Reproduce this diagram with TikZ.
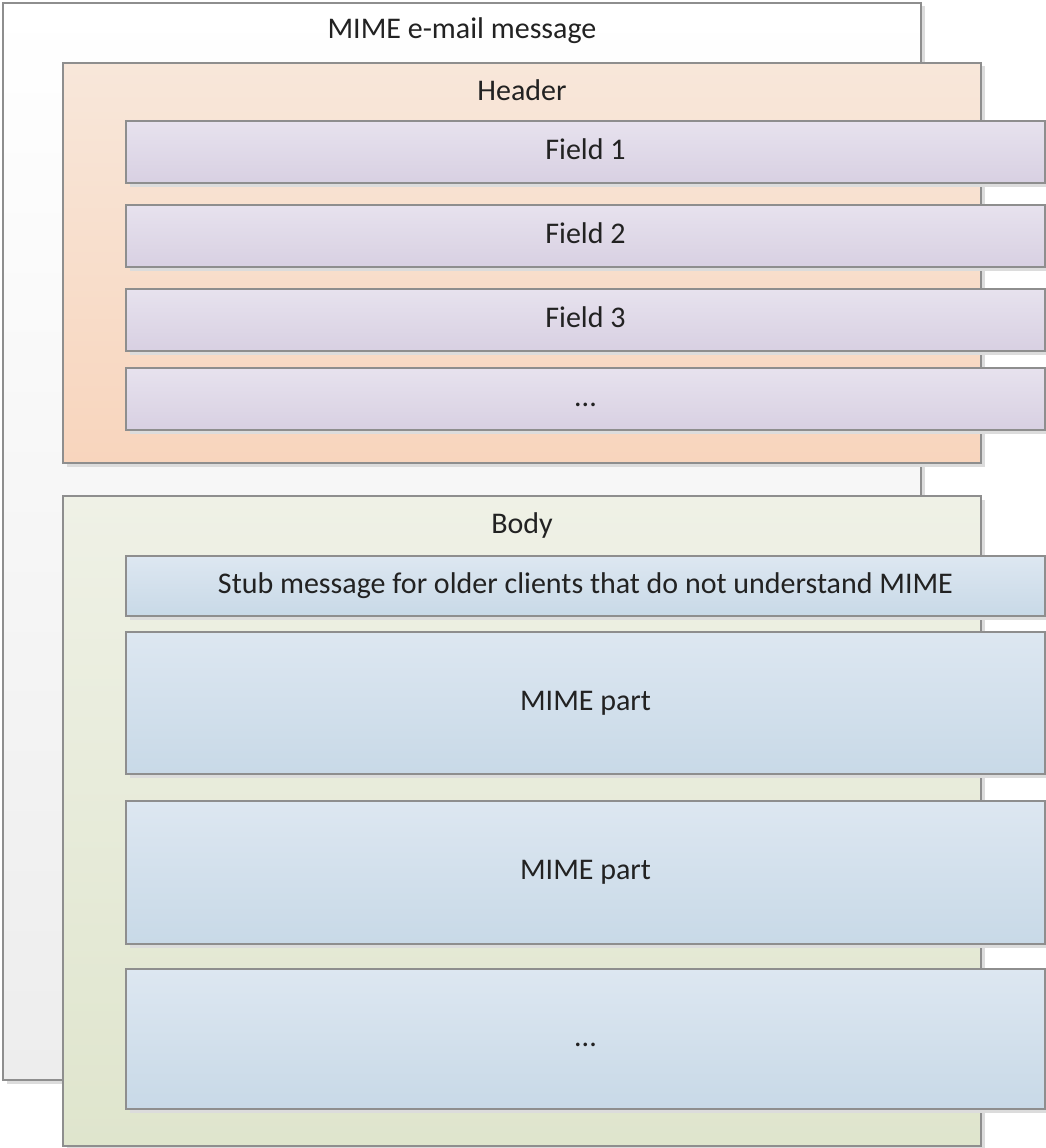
\documentclass[tikz,border=0pt]{standalone}
\usepackage{fontspec}
\setmainfont{Carlito}
\definecolor{edge}{HTML}{8E8E8E}
\definecolor{ink}{HTML}{222222}
\definecolor{shade}{HTML}{DCDCDC}
\definecolor{hdrtop}{HTML}{F8E7DA}
\definecolor{hdrbot}{HTML}{F8D5BD}
\definecolor{bodytop}{HTML}{EFF1E6}
\definecolor{bodybot}{HTML}{DFE5CD}
\definecolor{fldtop}{HTML}{E7E2EE}
\definecolor{fldbot}{HTML}{D8D0E2}
\definecolor{parttop}{HTML}{DDE7F1}
\definecolor{partbot}{HTML}{C8D9E7}
\definecolor{msgbot}{HTML}{EDEDED}
\tikzset{
  x=1pt, y=-1pt,
  box/.style={draw=edge, line width=1.3pt, inner sep=0pt, outer sep=0pt},
  shadowed/.style={preaction={fill=shade, transform canvas={shift={(3.5pt,-3.5pt)}}}},
  msgbox/.style={box, shadowed, top color=white, bottom color=msgbot},
  hdrbox/.style={box, shadowed, top color=hdrtop, bottom color=hdrbot},
  bodybox/.style={box, shadowed, top color=bodytop, bottom color=bodybot},
  fieldbox/.style={box, shadowed, top color=fldtop, bottom color=fldbot},
  partbox/.style={box, shadowed, top color=parttop, bottom color=partbot},
  lbl/.style={text=ink, font=\fontsize{30}{36}\selectfont, inner sep=0pt, anchor=base}
}
\begin{document}
\begin{tikzpicture}
\useasboundingbox (0,0) rectangle (1046,1148);
% outer message
\path[msgbox] (3,3) rectangle (921,1080);
\node[lbl] (msgt) at (462,39) {MIME e-mail message};
% header
\path[hdrbox] (63,63) rectangle (981,463);
\node[lbl] (hdrt) at (522,100) {Header};
\path[fieldbox] (126,121) rectangle (1045,183);
\node[lbl] (f1) at (585.5,159) {Field 1};
\path[fieldbox] (126,205) rectangle (1045,267);
\node[lbl] (f2) at (585.5,243) {Field 2};
\path[fieldbox] (126,289) rectangle (1045,351);
\node[lbl] (f3) at (585.5,327) {Field 3};
\path[fieldbox] (126,368) rectangle (1045,430);
\node[lbl] (f4) at (585.5,406) {...};
% body
\path[bodybox] (63,496) rectangle (981,1146);
\node[lbl] (bodyt) at (522,533) {Body};
\path[partbox] (126,556) rectangle (1045,616);
\node[lbl] (stub) at (585.5,593) {Stub message for older clients that do not understand MIME};
\path[partbox] (126,632) rectangle (1045,774);
\node[lbl] (p1) at (585.5,710) {MIME part};
\path[partbox] (126,801) rectangle (1045,944);
\node[lbl] (p2) at (585.5,879.5) {MIME part};
\path[partbox] (126,969) rectangle (1045,1109);
\node[lbl] (p3) at (585.5,1046) {...};
\end{tikzpicture}
\end{document}
